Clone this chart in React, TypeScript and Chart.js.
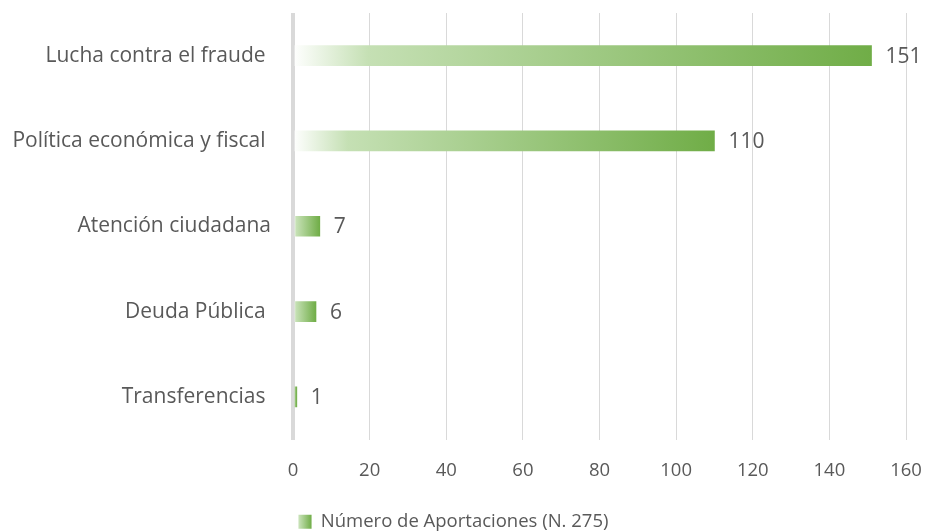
import React, { useEffect, useRef } from "react";
import { Chart, registerables } from "chart.js";

Chart.register(...registerables);

const categories = [
  "Lucha contra el fraude ",
  "Política económica y fiscal ",
  "Atención ciudadana",
  "Deuda Pública ",
  "Transferencias ",
];
const values = [151, 110, 7, 6, 1];
const xTicks = [0, 20, 40, 60, 80, 100, 120, 140, 160];
const seriesName = "Número de Aportaciones (N. 275)";

const FONT = "'Open Sans'";
const BIG = 21;
const SMALL = 18.5;
const TEXT = "#595959";
const GREEN = "#70AD47";

function barGradient(c: CanvasRenderingContext2D, x0: number, x1: number) {
  const g = c.createLinearGradient(x0, 0, x1, 0);
  g.addColorStop(0, "rgba(255,255,255,1)");
  g.addColorStop(0.13, "#C5E0B4");
  g.addColorStop(1, GREEN);
  return g;
}

const valueLabels = {
  id: "valueLabels",
  afterDatasetsDraw(chart: any) {
    const c = chart.ctx;
    const meta = chart.getDatasetMeta(0);
    c.save();
    c.font = `${BIG}px ${FONT}`;
    c.fillStyle = TEXT;
    c.textAlign = "left";
    c.textBaseline = "middle";
    meta.data.forEach((el: any, i: number) => {
      c.fillText(String(values[i]), el.x + 14, el.y + 1);
    });
    c.restore();
  },
};

const legendGradient = {
  id: "legendGradient",
  beforeDraw(chart: any) {
    const lg = chart.legend;
    if (!lg || !lg.legendHitBoxes || !lg.legendHitBoxes.length || !lg.legendItems) return;
    const hb = lg.legendHitBoxes[0];
    const bw = lg.options.labels.boxWidth;
    lg.legendItems[0].fillStyle = barGradient(chart.ctx, hb.left, hb.left + bw);
  },
};

export default function App() {
  const ref = useRef<HTMLCanvasElement | null>(null);
  useEffect(() => {
    if (!ref.current) return;
    const chart = new Chart(ref.current, {
      type: "bar",
      data: {
        labels: categories,
        datasets: [
          {
            label: seriesName,
            data: values,
            barThickness: 20,
            borderWidth: 0,
            backgroundColor: (ctx: any) => {
              const ch = ctx.chart;
              const xs = ch.scales && ch.scales.x;
              if (!ch.chartArea || !xs || ctx.raw === undefined) return GREEN;
              const x0 = xs.getPixelForValue(0);
              const x1 = xs.getPixelForValue(ctx.raw);
              return barGradient(ch.ctx, x0, x1);
            },
          },
        ],
      },
      options: {
        indexAxis: "y",
        responsive: false,
        animation: false,
        layout: { padding: { top: 13, right: 21, left: 0, bottom: -10 } },
        scales: {
          x: {
            min: 0,
            max: 160,
            afterBuildTicks: (s: any) => {
              s.ticks = xTicks.map((v) => ({ value: v }));
            },
            afterFit: (s: any) => {
              s.height = 73;
              s.paddingLeft = 0;
              s.paddingRight = 0;
            },
            border: { display: false },
            grid: {
              drawTicks: false,
              color: "#D9D9D9",
              lineWidth: (ctx: any) => (ctx.tick && ctx.tick.value === 0 ? 4 : 1),
            },
            ticks: {
              padding: 20,
              color: TEXT,
              font: { family: FONT, size: SMALL },
            },
          },
          y: {
            afterFit: (s: any) => {
              s.width = 293;
              s.paddingTop = 0;
              s.paddingBottom = 0;
            },
            border: { display: false },
            grid: { display: false, drawTicks: false },
            ticks: {
              padding: 22,
              color: TEXT,
              font: { family: FONT, size: BIG },
            },
          },
        },
        plugins: {
          tooltip: { enabled: false },
          legend: {
            position: "bottom",
            labels: {
              boxWidth: 14,
              boxHeight: 14,
              padding: 0,
              color: TEXT,
              font: { family: FONT, size: SMALL },
            },
          },
        },
      },
      plugins: [valueLabels, legendGradient],
    });
    return () => chart.destroy();
  }, []);
  return (
    <div style={{ position: "fixed", left: 0, top: 0, width: 927, height: 531 }}>
      <canvas ref={ref} width={927} height={531} style={{ display: "block" }} />
    </div>
  );
}
